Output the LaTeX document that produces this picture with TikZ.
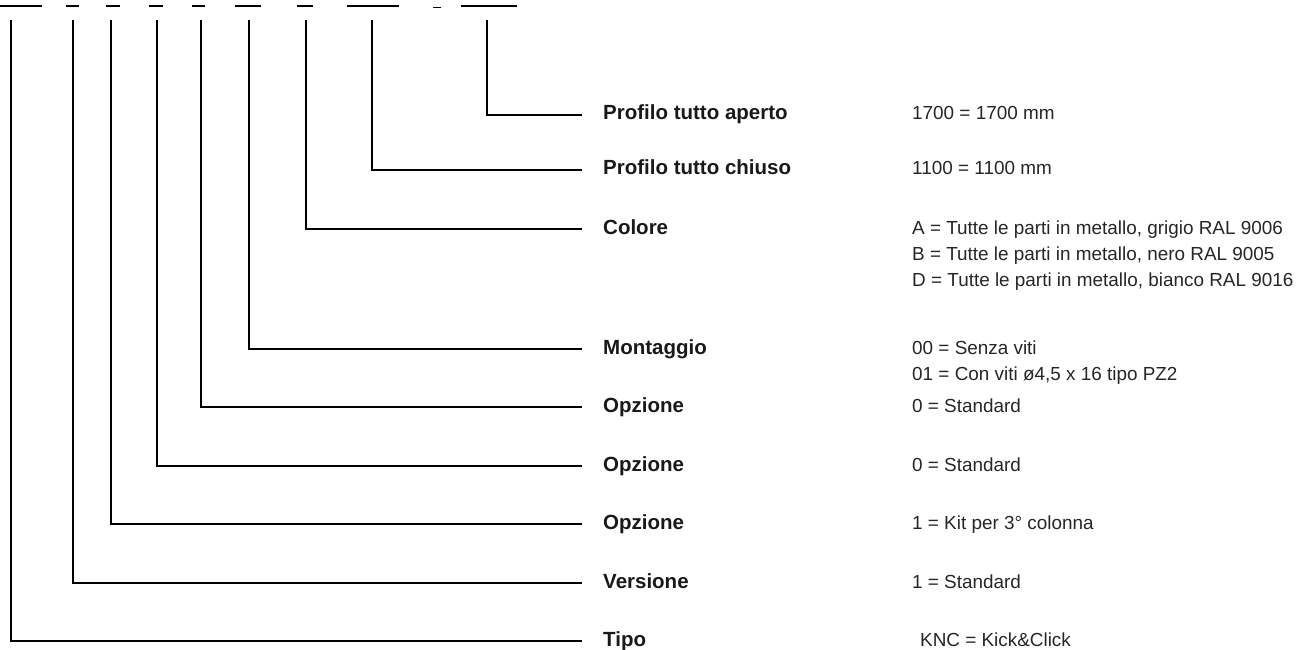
\documentclass[tikz,border=0pt]{standalone}
\usepackage{fontspec}
\setmainfont{Liberation Sans}
\begin{document}
\begin{tikzpicture}[x=1pt,y=-1pt,
  conn/.style={line width=1.5pt},
  seg/.style={line width=1.8pt},
  lab/.style={font=\fontsize{20.5}{24}\selectfont\bfseries, text=black!90, anchor=west, inner xsep=21pt, inner ysep=0pt, text height=10pt, text depth=0pt},
  val/.style={font=\fontsize{18.9}{22}\selectfont, text=black!85, anchor=west, inner sep=0pt, text height=10pt, text depth=0pt}]
\useasboundingbox (0,0) rectangle (1298,650);
% top code segments
\draw[seg] (0,6) -- (42,6);
\draw[seg] (66,6) -- (79,6);
\draw[seg] (106,6) -- (120,6);
\draw[seg] (149,6) -- (163,6);
\draw[seg] (192,6) -- (205,6);
\draw[seg] (235,6) -- (261,6);
\draw[seg] (297,6) -- (313,6);
\draw[seg] (347,6) -- (399,6);
\draw[seg] (433,7.5) -- (441,7.5);
\draw[seg] (461,6) -- (517,6);
% top coordinates of connectors
\coordinate (t1) at (11,20);
\coordinate (t2) at (73,20);
\coordinate (t3) at (111,20);
\coordinate (t4) at (157,20);
\coordinate (t5) at (201,20);
\coordinate (t6) at (249,20);
\coordinate (t7) at (306,20);
\coordinate (t8) at (372,20);
\coordinate (t9) at (487,20);
% labels
\node[lab] (l9) at (582,115) {Profilo tutto aperto};
\node[lab] (l8) at (582,170) {Profilo tutto chiuso};
\node[lab] (l7) at (582,229) {Colore};
\node[lab] (l6) at (582,349) {Montaggio};
\node[lab] (l5) at (582,407) {Opzione};
\node[lab] (l4) at (582,466) {Opzione};
\node[lab] (l3) at (582,524) {Opzione};
\node[lab] (l2) at (582,583) {Versione};
\node[lab] (l1) at (582,641) {Tipo};
% values
\node[val] (v9) at (912,115) {1700 = 1700 mm};
\node[val] (v8) at (912,170) {1100 = 1100 mm};
\node[val] (v7a) at (912,229) {A = Tutte le parti in metallo, grigio RAL 9006};
\node[val] (v7b) at (912,255) {B = Tutte le parti in metallo, nero RAL 9005};
\node[val] (v7c) at (912,281) {D = Tutte le parti in metallo, bianco RAL 9016};
\node[val] (v6a) at (912,349) {00 = Senza viti};
\node[val] (v6b) at (912,375) {01 = Con viti ø4,5 x 16 tipo PZ2};
\node[val] (v5) at (912,407) {0 = Standard};
\node[val] (v4) at (912,466) {0 = Standard};
\node[val] (v3) at (912,524) {1 = Kit per 3° colonna};
\node[val] (v2) at (912,583) {1 = Standard};
\node[val] (v1) at (920,641) {KNC = Kick\&Click};
% connectors
\foreach \i in {1,...,9} { \draw[conn] (t\i) |- (l\i.west); }
\end{tikzpicture}
\end{document}
